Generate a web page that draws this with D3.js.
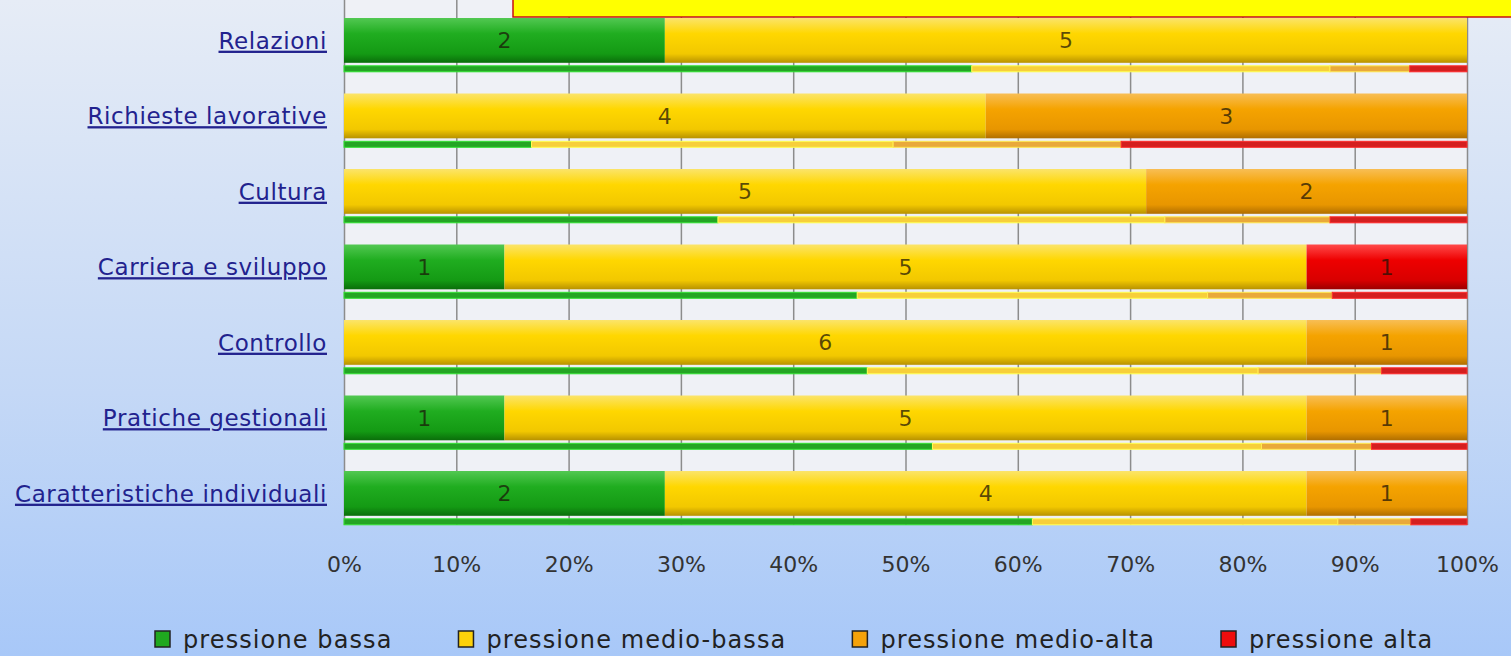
<!DOCTYPE html>
<html>
<head>
<meta charset="utf-8">
<script src="https://cdn.jsdelivr.net/npm/d3@7"></script>
<style>
    body { margin: 0; overflow: hidden; }
    svg { display: block; font-family: "DejaVu Sans", Verdana, sans-serif; }
    .grid line { stroke: #8c8c8c; stroke-width: 1.5; }
    .grid path { stroke-width: 0; }
    .xaxis path, .xaxis line { display: none; }
</style>
</head>
<body>
<script>
    // categories, top to bottom
    var categories = ["Relazioni", "Richieste lavorative", "Cultura", "Carriera e sviluppo",
                      "Controllo", "Pratiche gestionali", "Caratteristiche individuali"];
    var seriesNames = ["pressione bassa", "pressione medio-bassa", "pressione medio-alta", "pressione alta"];

    // counts shown in the main bars
    var countBassa      = [2, 0, 0, 1, 0, 1, 2];
    var countMedioBassa = [5, 4, 5, 5, 6, 5, 4];
    var countMedioAlta  = [0, 3, 2, 0, 1, 1, 1];
    var countAlta       = [0, 0, 0, 1, 0, 0, 0];

    // reference distribution (thin bars, %)
    var refBassa      = [55.9, 16.7, 33.3, 45.7, 46.6, 52.4, 61.3];
    var refMedioBassa = [31.9, 32.2, 39.8, 31.2, 34.8, 29.3, 27.2];
    var refMedioAlta  = [7.1, 20.3, 14.7, 11.1, 11.0, 9.8, 6.5];
    var refAlta       = [5.1, 30.8, 12.2, 12.0, 7.6, 8.5, 5.0];

    var xTickValues = [0, 0.1, 0.2, 0.3, 0.4, 0.5, 0.6, 0.7, 0.8, 0.9, 1];

    var colors = ["#1fa81f", "#fdd20a", "#f5a20a", "#ee0d0d"];
    var thinColors = ["#24a524", "#f7cf3a", "#e9a93a", "#d41f1f"];
    var gradStops = [
        ["#52c852", "#20ad20", "#149a14", "#0a6e0a"],
        ["#fbe46a", "#ffd700", "#f2c800", "#b89200"],
        ["#f8be55", "#f5a300", "#e89600", "#b06e00"],
        ["#ff4a4a", "#ee0000", "#d80000", "#9c0000"]
    ];

    var W = 1511, H = 656;
    var plotLeft = 344, plotRight = 1467, plotBottom = 525;

    var svg = d3.select("body").append("svg").attr("width", W).attr("height", H);
    var defs = svg.append("defs");

    var bgGrad = defs.append("linearGradient").attr("id", "bgGrad")
        .attr("x1", 0).attr("y1", 0).attr("x2", 0).attr("y2", 1);
    bgGrad.append("stop").attr("offset", "0%").attr("stop-color", "#e6ecf6");
    bgGrad.append("stop").attr("offset", "60%").attr("stop-color", "#c4d8f6");
    bgGrad.append("stop").attr("offset", "100%").attr("stop-color", "#a8c8f8");

    gradStops.forEach(function (s, i) {
        var g = defs.append("linearGradient").attr("id", "g" + i)
            .attr("x1", 0).attr("y1", 0).attr("x2", 0).attr("y2", 1);
        [0, 35, 80, 100].forEach(function (o, j) {
            g.append("stop").attr("offset", o + "%").attr("stop-color", s[j]);
        });
    });

    svg.append("rect").attr("width", W).attr("height", H).attr("fill", "url(#bgGrad)");

    var x = d3.scaleLinear().domain([0, 1]).range([plotLeft, plotRight]);
    var y = d3.scaleBand().domain(categories).range([7.24, 535.74])
        .paddingInner(0.285).paddingOuter(0.1425);
    var mainH = y.bandwidth() * 0.83;

    // plot background
    svg.append("rect").attr("x", plotLeft).attr("y", 0)
        .attr("width", plotRight - plotLeft).attr("height", plotBottom)
        .attr("fill", "#eff1f6");

    // grid lines
    svg.append("g").attr("class", "grid")
        .attr("transform", "translate(0," + plotBottom + ")")
        .call(d3.axisBottom(x).tickValues(xTickValues).tickSize(-plotBottom).tickFormat(""));

    // title box (cropped at top)
    svg.append("rect").attr("x", 513).attr("y", -4).attr("width", 1010).attr("height", 21)
        .attr("fill", "#ffff00").attr("stroke", "#c81010").attr("stroke-width", 1.5);

    // main bars
    var rows = categories.map(function (c, i) {
        return { cat: c, a: countBassa[i], b: countMedioBassa[i], c: countMedioAlta[i], d: countAlta[i] };
    });
    var keys = ["a", "b", "c", "d"];
    var stackMain = d3.stack().keys(keys).offset(d3.stackOffsetExpand)(rows);

    var mainG = svg.append("g");
    stackMain.forEach(function (layer, k) {
        var seg = mainG.selectAll(".seg" + k)
            .data(layer.filter(function (d) { return d.data[keys[k]] > 0; }))
            .enter();
        seg.append("rect")
            .attr("x", function (d) { return x(d[0]); })
            .attr("y", function (d) { return y(d.data.cat); })
            .attr("width", function (d) { return x(d[1]) - x(d[0]); })
            .attr("height", mainH)
            .attr("fill", "url(#g" + k + ")");
        seg.append("text")
            .attr("x", function (d) { return (x(d[0]) + x(d[1])) / 2; })
            .attr("y", function (d) { return y(d.data.cat) + mainH / 2; })
            .attr("dy", "0.36em")
            .attr("text-anchor", "middle")
            .attr("font-size", 22)
            .attr("fill", "#1a1408")
            .attr("fill-opacity", 0.72)
            .text(function (d) { return d.data[keys[k]]; });
    });

    // thin reference bars
    var refRows = categories.map(function (c, i) {
        return { cat: c, a: refBassa[i], b: refMedioBassa[i], c: refMedioAlta[i], d: refAlta[i] };
    });
    var stackRef = d3.stack().keys(keys).offset(d3.stackOffsetExpand)(refRows);
    var thinG = svg.append("g");
    stackRef.forEach(function (layer, k) {
        thinG.selectAll(".thin" + k).data(layer).enter().append("rect")
            .attr("x", function (d) { return x(d[0]); })
            .attr("y", function (d) { return y(d.data.cat) + mainH + 3; })
            .attr("width", function (d) { return x(d[1]) - x(d[0]); })
            .attr("height", 6)
            .attr("fill", thinColors[k])
            .attr("stroke", d3.color(thinColors[k]).brighter(0.9))
            .attr("stroke-width", 1);
    });

    // category labels
    svg.append("g").selectAll("text").data(categories).enter().append("text")
        .attr("x", 327)
        .attr("y", function (d) { return y(d) + mainH / 2; })
        .attr("dy", "0.36em")
        .attr("text-anchor", "end")
        .attr("font-size", 23)
        .attr("letter-spacing", 0.6)
        .attr("fill", "#22228e")
        .attr("text-decoration", "underline")
        .text(function (d) { return d; });

    // x axis labels
    svg.append("g").attr("class", "xaxis")
        .attr("transform", "translate(0,553)")
        .call(d3.axisBottom(x).tickValues(xTickValues).tickSize(0).tickFormat(d3.format(".0%")))
        .selectAll("text")
        .attr("font-size", 22)
        .attr("font-family", "DejaVu Sans, sans-serif")
        .attr("fill", "#333");

    // legend
    var legend = svg.append("g").attr("transform", "translate(155,639)");
    var lx = 0;
    seriesNames.forEach(function (name, i) {
        var item = legend.append("g").attr("transform", "translate(" + lx + ",0)");
        item.append("rect").attr("x", 0).attr("y", -8).attr("width", 15).attr("height", 16)
            .attr("fill", colors[i]).attr("stroke", "#222").attr("stroke-width", 1.5);
        var t = item.append("text").attr("x", 28).attr("dy", "0.36em")
            .attr("font-size", 24).attr("letter-spacing", 1.1)
            .attr("fill", "#222").text(name);
        lx += 28 + t.node().getComputedTextLength() + 66;
    });
</script>
</body>
</html>
